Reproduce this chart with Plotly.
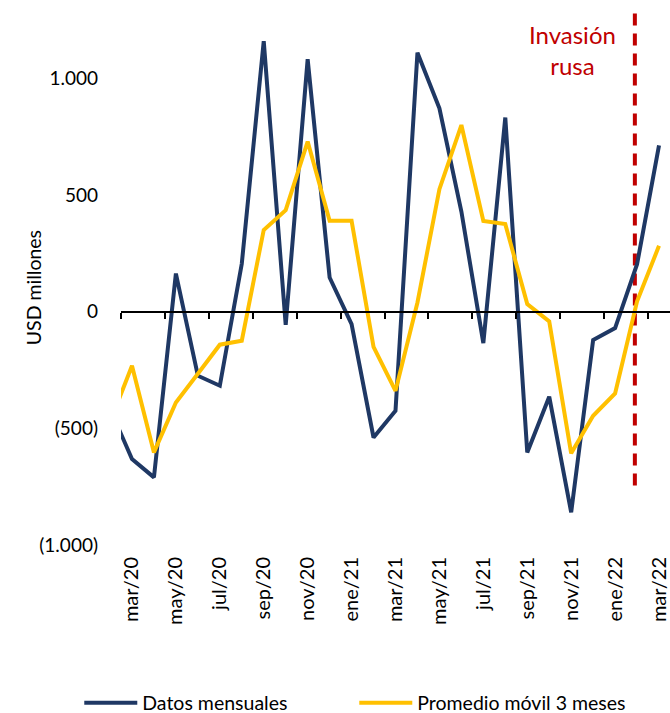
import plotly.graph_objects as go

# Monthly series, feb/20 .. mar/22 (USD millones)
months = ["feb/20", "mar/20", "abr/20", "may/20", "jun/20", "jul/20", "ago/20",
          "sep/20", "oct/20", "nov/20", "dic/20", "ene/21", "feb/21", "mar/21",
          "abr/21", "may/21", "jun/21", "jul/21", "ago/21", "sep/21", "oct/21",
          "nov/21", "dic/21", "ene/22", "feb/22", "mar/22"]
datos_mensuales = [-416, -631, -710, 164, -274, -317, 206, 1161, -56, 1083, 147,
                   -53, -539, -424, 1111, 873, 430, -134, 833, -603, -364, -860,
                   -121, -70, 204, 714]
promedio_movil = [-474, -231, -603, -389, -266, -141, -124, 351, 436, 730, 390,
                  390, -150, -339, 40, 526, 801, 390, 376, 33, -41, -607, -446,
                  -350, 45, 283]

tick_labels = ["mar/20", "may/20", "jul/20", "sep/20", "nov/20", "ene/21", "mar/21",
               "may/21", "jul/21", "sep/21", "nov/21", "ene/22", "mar/22"]
y_ticks = [1000, 500, 0, -500, -1000]
y_tick_text = ["1.000", "500", "0", "(500)", "(1.000)"]

invasion_x = 23.9          # 24 feb 2022
invasion_y = [-745, 1307]

x_idx = list(range(len(months)))
label_pos = [months.index(m) for m in tick_labels]
tick_marks = [i - 0.5 for i in range(1, len(months), 2)]

y_min, y_max = -1000, 1320
x_range = [0.5, len(months) - 0.5]
zero_frac = (0 - y_min) / (y_max - y_min)

FONT = "Lato"
NAVY = "#1F3864"
GOLD = "#FFC000"
RED = "#C00000"

fig = go.Figure()
fig.add_trace(go.Scatter(x=x_idx, y=datos_mensuales, mode="lines",
                         name="Datos mensuales",
                         line=dict(color=NAVY, width=4), xaxis="x2"))
fig.add_trace(go.Scatter(x=x_idx, y=promedio_movil, mode="lines",
                         name="Promedio móvil 3 meses",
                         line=dict(color=GOLD, width=4), xaxis="x2"))
fig.add_trace(go.Scatter(x=[invasion_x, invasion_x], y=invasion_y, mode="lines",
                         showlegend=False, hoverinfo="skip",
                         line=dict(color=RED, width=4, dash="12px,8px")))

fig.add_annotation(x=21.05, y=1123, xref="x", yref="y", text="Invasión<br>rusa",
                   showarrow=False, font=dict(family=FONT, size=24, color=RED))
fig.add_annotation(x=-0.184, y=103, xref="paper", yref="y", text="USD millones",
                   textangle=-90, showarrow=False,
                   font=dict(family=FONT, size=19.5, color="#000"))

fig.update_layout(
    width=670, height=713,
    margin=dict(l=121, r=0, t=4, b=168, autoexpand=False),
    paper_bgcolor="white", plot_bgcolor="white",
    font=dict(family=FONT, size=19, color="#000"),
    xaxis=dict(range=x_range, tickmode="array", tickvals=label_pos,
               ticktext=tick_labels, tickangle=-90, ticks="", showline=False,
               showgrid=False, zeroline=False, ticklabelstandoff=7,
               automargin=False, tickfont=dict(size=20)),
    xaxis2=dict(range=x_range, overlaying="x", anchor="free", position=zero_frac,
                side="bottom", tickmode="array", tickvals=tick_marks,
                showticklabels=False, ticks="outside", ticklen=6, tickwidth=2,
                tickcolor="#000", showline=True, linecolor="#000", linewidth=2,
                showgrid=False, zeroline=False),
    yaxis=dict(range=[y_min, y_max], tickmode="array", tickvals=y_ticks,
               ticktext=y_tick_text, showgrid=False, zeroline=False,
               showline=False, ticks="", ticklabelstandoff=22, automargin=False,
               tickfont=dict(size=19)),
    legend=dict(orientation="h", x=-0.076, xanchor="left", y=-0.292,
                yanchor="middle", font=dict(family=FONT, size=19.5),
                itemwidth=53, entrywidth=207, entrywidthmode="pixels"),
)

fig.write_html("out.html")
